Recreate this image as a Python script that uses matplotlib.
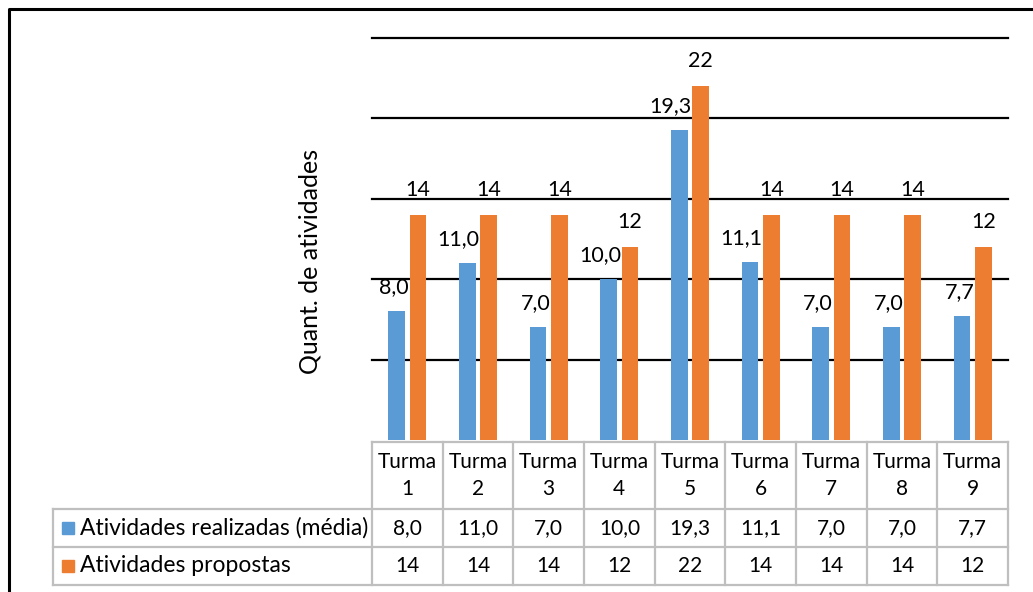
import matplotlib.pyplot as plt
import matplotlib.transforms as mtransforms
from matplotlib.lines import Line2D
from matplotlib.patches import Rectangle
import numpy as np

plt.rcParams['font.family'] = ['Lato', 'DejaVu Sans']

turmas = ['Turma\n1', 'Turma\n2', 'Turma\n3', 'Turma\n4', 'Turma\n5',
          'Turma\n6', 'Turma\n7', 'Turma\n8', 'Turma\n9']
realizadas = [8.0, 11.0, 7.0, 10.0, 19.3, 11.1, 7.0, 7.0, 7.7]
propostas = [14, 14, 14, 12, 22, 14, 14, 14, 12]
serie_nomes = ['Atividades realizadas (média)', 'Atividades propostas']
cores = ['#5B9BD5', '#ED7D31']

W, H = 1033, 592
fig = plt.figure(figsize=(W / 100, H / 100), dpi=100)
ax = fig.add_axes([372 / W, 1 - 440 / H, 636 / W, 402 / H])

x = np.arange(len(turmas))
larg = 0.235
desl = 0.152
ax.bar(x - desl, realizadas, larg, color=cores[0], zorder=3)
ax.bar(x + desl, propostas, larg, color=cores[1], zorder=3)

ax.set_xlim(-0.5, len(turmas) - 0.5)
ax.set_ylim(0, 25)
for v in [5, 10, 15, 20, 25]:
    ax.axhline(v, color='black', lw=1.6, zorder=1, clip_on=False)
for s in ax.spines.values():
    s.set_visible(False)
ax.set_xticks([])
ax.set_yticks([])

fs = 15.5
# rótulos de dados
for xi, v in zip(x, realizadas):
    ax.annotate(f'{v:.1f}'.replace('.', ','), (xi - desl + larg / 2, v),
                xytext=(3, 10), textcoords='offset points',
                ha='right', va='bottom', fontsize=fs, zorder=4)
for xi, v in zip(x, propostas):
    ax.annotate(f'{v}', (xi + desl, v), xytext=(0, 11),
                textcoords='offset points', ha='center', va='bottom',
                fontsize=fs, zorder=4)

fig.text(310 / W, 1 - 261 / H, 'Quant. de atividades', rotation=90,
         ha='center', va='center', fontsize=18)

# tabela de dados
tr = mtransforms.blended_transform_factory(ax.transData, ax.transAxes)
cinza = '#BFBFBF'
def py(p):
    return (440 - p) / 402

y_lin = [py(442), py(509), py(547), py(585)]
x_esq = (53 - 372) / 70.67 - 0.5
n = len(turmas)
bordas = np.arange(n + 1) - 0.5

def linha(xs, ys):
    ax.add_line(Line2D(xs, ys, transform=tr, color=cinza, lw=1.6,
                       clip_on=False))

linha([bordas[0], bordas[-1]], [y_lin[0], y_lin[0]])
for yy in y_lin[1:]:
    linha([x_esq, bordas[-1]], [yy, yy])
for bx in bordas:
    linha([bx, bx], [y_lin[0], y_lin[3]])
linha([x_esq, x_esq], [y_lin[1], y_lin[3]])

for xi, t in zip(x, turmas):
    ax.text(xi, (y_lin[0] + y_lin[1]) / 2, t, transform=tr, ha='center',
            va='center', fontsize=15, linespacing=1.45)
linhas_valores = [[f'{v:.1f}'.replace('.', ',') for v in realizadas],
                  [f'{v}' for v in propostas]]
for r, vals in enumerate(linhas_valores):
    yc = (y_lin[r + 1] + y_lin[r + 2]) / 2
    for xi, t in zip(x, vals):
        ax.text(xi, yc, t, transform=tr, ha='center', va='center',
                fontsize=15)
    # chave da legenda
    kx = (62 - 372) / 70.67 - 0.5
    kw = 12 / 70.67
    kh = 12 / 402
    ax.add_patch(Rectangle((kx, yc - kh / 2), kw, kh, transform=tr,
                           color=cores[r], clip_on=False))
    ax.text((80 - 372) / 70.67 - 0.5, yc, serie_nomes[r], transform=tr,
            ha='left', va='center', fontsize=16.5)

# moldura
fig.add_artist(Line2D([9 / W, 9 / W, 1], [0, 1 - 9 / H, 1 - 9 / H],
                      transform=fig.transFigure, color='black', lw=2.2))

fig.savefig('out.png', dpi=100)
